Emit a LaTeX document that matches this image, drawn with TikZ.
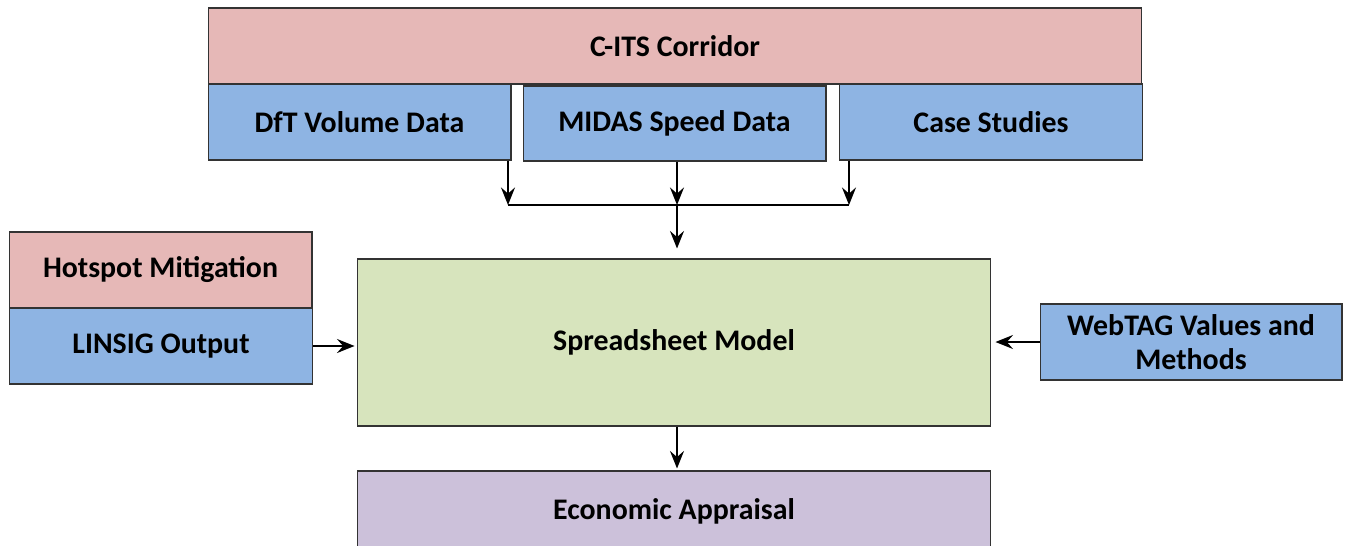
\documentclass[tikz,border=0pt]{standalone}
\usepackage{fontspec}
\setmainfont{Carlito}
\usetikzlibrary{arrows.meta}
\definecolor{boxpink}{HTML}{E6B8B7}
\definecolor{boxblue}{HTML}{8EB4E3}
\definecolor{boxgreen}{HTML}{D7E4BD}
\definecolor{boxlilac}{HTML}{CCC1DA}
\begin{document}
\begin{tikzpicture}[x=0.02cm, y=-0.02cm,
      blk/.style={draw=black!80, line width=0.6pt, minimum width=6.06cm,
                  minimum height=1.52cm, align=center, inner sep=2pt,
                  font=\fontsize{17}{19.5}\selectfont\bfseries},
      src/.style={blk, fill=boxblue},
      hdr/.style={blk, fill=boxpink},
      arr/.style={-{Stealth[length=10pt, width=8pt, inset=3.5pt]}, line width=1pt}
    ]
    \useasboundingbox (0,0) rectangle (1348,545);

    % Corridor data sources
    \node[hdr, minimum width=18.68cm] (cits) at (675,46) {C-ITS Corridor};
    \node[src] (dft) at (359.5,122) {DfT Volume Data};
    \node[src, minimum height=1.5cm] (midas) at (674.5,123.5) {MIDAS Speed Data};
    \node[src] (case) at (991,122) {Case Studies};

    % Model and side inputs
    \node[blk, fill=boxgreen, minimum width=12.68cm, minimum height=3.34cm]
      (model) at (674,342.5) {Spreadsheet Model};
    \node[hdr] (hotspot) at (160.5,270) {Hotspot Mitigation};
    \node[src] (linsig) at (161,346) {LINSIG Output};
    \node[src, minimum width=6.04cm] (webtag) at (1191,342) {WebTAG Values and\\Methods};

    % Result
    \node[blk, fill=boxlilac, minimum width=12.68cm, minimum height=1.6cm]
      (appraisal) at (674,511) {Economic Appraisal};

    % Connectors
    \coordinate (jl) at (508,205);
    \coordinate (jm) at (677,205);
    \coordinate (jr) at (849,205);
    \draw[arr] (dft.south -| jl) -- (jl);
    \draw[arr] (midas.south -| jm) -- (jm);
    \draw[arr] (case.south -| jr) -- (jr);
    \draw[line width=1pt] (jl) -- (jr);
    \draw[arr, shorten >=0.2cm] (jm) -- (model.north -| jm);
    \draw[arr, shorten >=0.04cm] (linsig.east) -- (model.west |- linsig.east);
    \draw[arr, shorten >=0.08cm] (webtag.west) -- (model.east |- webtag.west);
    \draw[arr, shorten >=0.04cm] (model.south -| jm) -- (appraisal.north -| jm);
  \end{tikzpicture}
\end{document}
